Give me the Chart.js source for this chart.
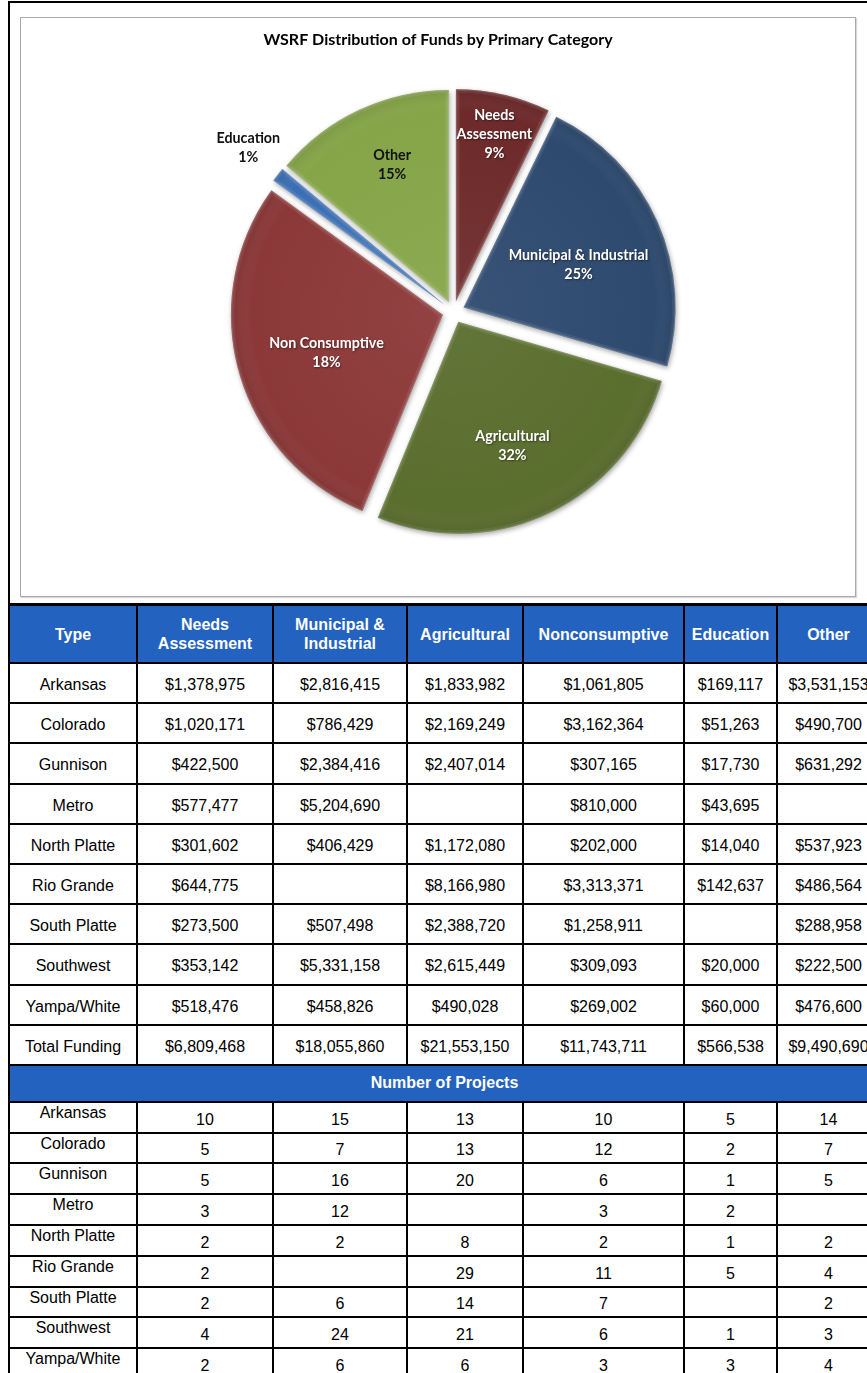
<!DOCTYPE html>
<html>
<head>
<meta charset="utf-8">
<script src="https://cdn.jsdelivr.net/npm/chart.js@4.4.1/dist/chart.umd.min.js"></script>
<style>
  html, body { margin: 0; padding: 0; background: #fff; width: 867px; height: 1373px; overflow: hidden; }
  #frame { position: absolute; left: 8px; top: 1px; width: 900px; height: 604px; border-left: 2px solid #000; border-top: 2px solid #000; box-sizing: border-box; }
  #innerBorder { position: absolute; left: 20px; top: 17px; width: 836px; height: 580px; border: 1px solid #a9a9a9; box-sizing: border-box; box-shadow: 1px 1px 1px rgba(0,0,0,0.15); }
  #chartBox { position: absolute; left: 20px; top: 17px; width: 835px; height: 579px; }
  table { position: absolute; left: 8px; top: 603px; border-collapse: collapse; table-layout: fixed; width: 871px;
          font-family: "Liberation Sans", Arial, sans-serif; font-size: 16px; color: #000; }
  td { border: 2px solid #000; text-align: center; padding: 0; }
  tr.head td { background: #2462c0; color: #fff; font-weight: bold; height: 56px; line-height: 19px; border-top-width: 3px; }
  tr.money td { height: 34.2px; padding-top: 4px; }
  tr.sub td { background: #2462c0; color: #fff; font-weight: bold; height: 35px; }
  tr.proj td { height: 30.8px; vertical-align: bottom; padding-bottom: 3px; box-sizing: border-box; }
  tr.proj td.name { vertical-align: top; padding-top: 1px; padding-bottom: 0; }
</style>
</head>
<body>
<div id="frame"></div>
<div id="innerBorder"></div>
<div id="chartBox"><canvas id="pie"></canvas></div>
<table id="tbl"></table>
<script>
// ---------------- Pie data ----------------
const chartTitle = 'WSRF Distribution of Funds by Primary Category';
const pieCategories = [['Needs', 'Assessment'], ['Municipal & Industrial'], ['Agricultural'], ['Non Consumptive'], ['Education'], ['Other']];
// slice sizes as drawn in the reference (share of the full circle, %)
const sliceShares = [7.2, 22.3, 26.7, 28.8, 1.1, 13.9];
// percentages printed on the slices
const printedPercents = [9, 25, 32, 18, 1, 15];
const sliceColors = ['#6e2a2b', '#2e4a6f', '#5a6e2e', '#8c3838', '#3b6fb3', '#86a548'];

// ---------------- Table data ----------------
const regions = ['Arkansas', 'Colorado', 'Gunnison', 'Metro', 'North Platte', 'Rio Grande', 'South Platte', 'Southwest', 'Yampa/White'];
const tableHeaders = [['Type'], ['Needs', 'Assessment'], ['Municipal &', 'Industrial'], ['Agricultural'], ['Nonconsumptive'], ['Education'], ['Other']];
const needsFunding = [1378975, 1020171, 422500, 577477, 301602, 644775, 273500, 353142, 518476];
const municipalFunding = [2816415, 786429, 2384416, 5204690, 406429, null, 507498, 5331158, 458826];
const agriculturalFunding = [1833982, 2169249, 2407014, null, 1172080, 8166980, 2388720, 2615449, 490028];
const nonconsumptiveFunding = [1061805, 3162364, 307165, 810000, 202000, 3313371, 1258911, 309093, 269002];
const educationFunding = [169117, 51263, 17730, 43695, 14040, 142637, null, 20000, 60000];
const otherFunding = [3531153, 490700, 631292, null, 537923, 486564, 288958, 222500, 476600];
const totalFunding = [6809468, 18055860, 21553150, 11743711, 566538, 9490690];
const needsProjects = [10, 5, 5, 3, 2, 2, 2, 4, 2];
const municipalProjects = [15, 7, 16, 12, 2, null, 6, 24, 6];
const agriculturalProjects = [13, 13, 20, null, 8, 29, 14, 21, 6];
const nonconsumptiveProjects = [10, 12, 6, 3, 2, 11, 7, 6, 3];
const educationProjects = [5, 2, 1, 2, 1, 5, null, 1, 3];
const otherProjects = [14, 7, 5, null, 2, 4, 2, 3, 4];

// ---------------- Build table ----------------
const colWidths = [128, 136, 134, 116, 161, 93, 103];
const fundingCols = [needsFunding, municipalFunding, agriculturalFunding, nonconsumptiveFunding, educationFunding, otherFunding];
const projectCols = [needsProjects, municipalProjects, agriculturalProjects, nonconsumptiveProjects, educationProjects, otherProjects];
const money = v => (v == null ? '' : '$' + v.toLocaleString('en-US'));
let html = '<colgroup>' + colWidths.map(w => `<col style="width:${w}px">`).join('') + '</colgroup>';
html += '<tr class="head">' + tableHeaders.map(h => `<td>${h.join('<br>')}</td>`).join('') + '</tr>';
regions.forEach((r, i) => {
  html += `<tr class="money"><td>${r}</td>` + fundingCols.map(c => `<td>${money(c[i])}</td>`).join('') + '</tr>';
});
html += '<tr class="money"><td>Total Funding</td>' + totalFunding.map(v => `<td>${money(v)}</td>`).join('') + '</tr>';
html += '<tr class="sub"><td colspan="7">Number of Projects</td></tr>';
regions.forEach((r, i) => {
  html += `<tr class="proj"><td class="name">${r}</td>` + projectCols.map(c => `<td>${c[i] == null ? '' : c[i]}</td>`).join('') + '</tr>';
});
document.getElementById('tbl').innerHTML = html;

// ---------------- Pie plugins ----------------
const explodedPie = {
  id: 'explodedPie',
  beforeDatasetsDraw(chart, args, opts) {
    const ctx = chart.ctx;
    const meta = chart.getDatasetMeta(0);
    const colors = chart.data.datasets[0].backgroundColor;
    meta.data.forEach((arc, i) => {
      const p = arc.getProps(['x', 'y', 'startAngle', 'endAngle', 'outerRadius'], true);
      const mid = (p.startAngle + p.endAngle) / 2;
      const ox = p.x + Math.cos(mid) * opts.offset;
      const oy = p.y + Math.sin(mid) * opts.offset;
      const path = () => { ctx.beginPath(); ctx.moveTo(ox, oy); ctx.arc(ox, oy, p.outerRadius, p.startAngle, p.endAngle); ctx.closePath(); };
      ctx.save();
      path();
      ctx.shadowColor = 'rgba(0,0,0,0.35)'; ctx.shadowBlur = 5; ctx.shadowOffsetX = 1; ctx.shadowOffsetY = 2;
      ctx.fillStyle = colors[i]; ctx.fill();
      ctx.shadowColor = 'transparent';
      ctx.clip();
      const g = ctx.createRadialGradient(ox, oy, 0, ox, oy, p.outerRadius);
      g.addColorStop(0, 'rgba(255,255,255,0.05)');
      g.addColorStop(0.9, 'rgba(255,255,255,0)');
      g.addColorStop(1, 'rgba(0,0,0,0.10)');
      ctx.fillStyle = g; ctx.fill();
      ctx.lineJoin = 'round';
      ctx.lineWidth = 7; ctx.strokeStyle = 'rgba(255,255,255,0.08)'; ctx.stroke();
      ctx.lineWidth = 2.5; ctx.strokeStyle = 'rgba(255,255,255,0.16)'; ctx.stroke();
      ctx.restore();
    });
    return false;
  },
  afterDraw(chart, args, opts) {
    const ctx = chart.ctx;
    // chart title (drawn here so it can sit left of the pie's centre, as in the reference)
    ctx.save();
    ctx.font = opts.titleFont;
    ctx.fillStyle = '#000';
    ctx.textAlign = 'center';
    ctx.textBaseline = 'middle';
    ctx.fillText(chartTitle, opts.titleX, opts.titleY);
    ctx.restore();

    const meta = chart.getDatasetMeta(0);
    meta.data.forEach((arc, i) => {
      const p = arc.getProps(['x', 'y', 'startAngle', 'endAngle', 'outerRadius'], true);
      const [frac, dDeg] = opts.labelPolar[i];
      const ang = (p.startAngle + p.endAngle) / 2 + dDeg * Math.PI / 180;
      const x = p.x + Math.cos(ang) * p.outerRadius * frac;
      const y = p.y + Math.sin(ang) * p.outerRadius * frac;
      const lines = chart.data.labels[i].concat([printedPercents[i] + '%']);
      ctx.save();
      ctx.font = opts.font;
      ctx.textAlign = 'center';
      ctx.textBaseline = 'middle';
      const dark = opts.darkLabels.includes(i);
      ctx.fillStyle = dark ? '#111' : '#fff';
      if (!dark) { ctx.shadowColor = 'rgba(0,0,0,0.45)'; ctx.shadowBlur = 2; ctx.shadowOffsetX = 1; ctx.shadowOffsetY = 1; }
      const top = y - (lines.length - 1) * opts.lineHeight / 2;
      lines.forEach((t, k) => ctx.fillText(t, x, top + k * opts.lineHeight));
      ctx.restore();
    });
  }
};

Chart.defaults.font.family = 'Lato, "Open Sans", sans-serif';
new Chart(document.getElementById('pie'), {
  type: 'pie',
  data: {
    labels: pieCategories,
    datasets: [{ data: sliceShares, backgroundColor: sliceColors, borderWidth: 0 }]
  },
  options: {
    responsive: true,
    maintainAspectRatio: false,
    animation: false,
    radius: 212,
    layout: { padding: { left: 40, right: 8, top: 40.7, bottom: 30 } },
    plugins: {
      title: { display: false },
      legend: { display: false },
      tooltip: { enabled: false },
      explodedPie: {
        offset: 11,
        titleFont: 'bold 16px Lato, "Open Sans", sans-serif',
        titleX: 418,
        titleY: 23,
        font: 'bold 14.3px Lato, "Open Sans", sans-serif',
        lineHeight: 19,
        darkLabels: [4, 5],
        labelPolar: [[0.86, 0], [0.63, 3.3], [0.69, 2], [0.63, -2.2], [1.24, 0.7], [0.75, 2.3]]
      }
    }
  },
  plugins: [explodedPie]
});
</script>
</body>
</html>
